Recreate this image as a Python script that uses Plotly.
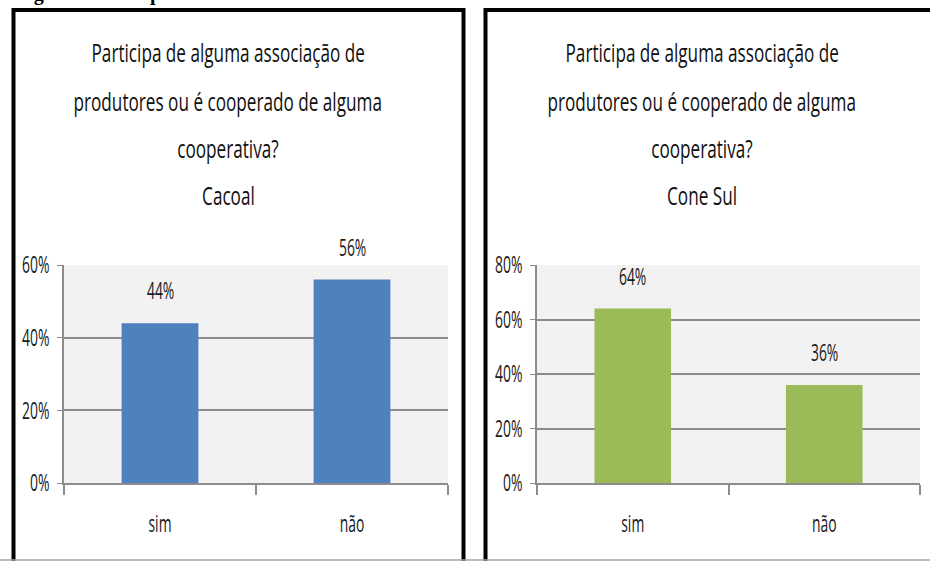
"""
Participação em associação / cooperativa - Cacoal x Cone Sul.
"""

import plotly.graph_objects as go

# ------------------------------------------------------- Data ---------------------------------------------------------

categories = ['sim', 'não']
cacoal_values = [0.44, 0.56]
cone_sul_values = [0.64, 0.36]

title_lines = [
    'Participa de alguma associação de',
    'produtores ou é cooperado de alguma',
    'cooperativa?',
]
regions = ['Cacoal', 'Cone Sul']
figure_caption = 'Figura 9 – Comparativo'

W, H = 930, 561
FONT = 'Open Sans, sans-serif'
GRID = '#8c8c8c'
TXT = '#1a1a1a'


def px(x):
    return x / W


def py(y):
    return 1 - y / H


# ------------------------------------------------------ Figure --------------------------------------------------------

fig = go.Figure()

panels = [
    dict(values=cacoal_values, color='#4f81bd', xdom=[px(64), px(448)], ymax=0.6, center=228, region=regions[0]),
    dict(values=cone_sul_values, color='#9bbb59', xdom=[px(537), px(920)], ymax=0.8, center=702, region=regions[1]),
]

annotations = []
for i, p in enumerate(panels, start=1):
    xa = 'x' if i == 1 else 'x%d' % i
    ya = 'y' if i == 1 else 'y%d' % i
    fig.add_trace(go.Bar(
        x=categories, y=p['values'], xaxis=xa, yaxis=ya,
        marker=dict(color=p['color'], line=dict(width=0)), width=0.4,
        hoverinfo='skip', showlegend=False,
    ))
    axis_x = dict(
        domain=p['xdom'], anchor=ya, showline=True, linecolor=GRID, linewidth=1.5,
        ticks='outside', ticklen=10, tickcolor=GRID, tickwidth=1.5, tickson='boundaries',
        showgrid=False, ticklabelstandoff=18, tickfont=dict(family=FONT, size=24, color=TXT),
        fixedrange=True, automargin=False,
    )
    axis_y = dict(
        domain=[py(483), py(265)], anchor=xa, range=[0, p['ymax']], dtick=0.2, tickformat='.0%',
        showline=True, linecolor=GRID, linewidth=1.5, ticks='outside', ticklen=5, tickcolor=GRID,
        showgrid=True, gridcolor=GRID, gridwidth=1.5, zeroline=False, ticklabelstandoff=3,
        tickfont=dict(family=FONT, size=24, color=TXT), fixedrange=True, automargin=False,
    )
    fig.update_layout(**{('xaxis' if i == 1 else 'xaxis%d' % i): axis_x,
                         ('yaxis' if i == 1 else 'yaxis%d' % i): axis_y})
    fig.add_shape(type='rect', xref=xa + ' domain', yref=ya + ' domain', x0=0, x1=1, y0=0, y1=1,
                  fillcolor='#f2f2f2', line=dict(width=0), layer='below')

    # data labels, lifted above the bar tops like the Excel original
    for cat, val in zip(categories, p['values']):
        annotations.append(dict(
            x=cat, y=val, xref=xa, yref=ya, text='%d%%' % round(val * 100), showarrow=False,
            yanchor='bottom', yshift=15, font=dict(family=FONT, size=24, color=TXT),
        ))

    # title, one annotation per line to get the wide line spacing
    for line, ycen in zip(title_lines + [p['region']], [52, 101, 148, 195]):
        annotations.append(dict(
            x=px(p['center']), y=py(ycen), xref='paper', yref='paper', text=line, showarrow=False,
            xanchor='center', yanchor='middle', font=dict(family=FONT, size=25, color='#111'),
        ))

# caption of the page, almost entirely cut off at the top
annotations.append(dict(
    x=px(15), y=py(6), xref='paper', yref='paper', text='<b>%s</b>' % figure_caption, showarrow=False,
    xanchor='left', yanchor='bottom', borderpad=0,
    font=dict(family='Liberation Serif, serif', size=20, color='#000'),
))

# panel frames and the grey page edge
fig.add_shape(type='rect', xref='paper', yref='paper', x0=px(13.5), x1=px(463.5), y0=-0.1, y1=py(10),
              line=dict(color='#000', width=4))
fig.add_shape(type='rect', xref='paper', yref='paper', x0=px(485.5), x1=1.1, y0=-0.1, y1=py(10),
              line=dict(color='#000', width=4))
fig.add_shape(type='line', xref='paper', yref='paper', x0=0, x1=1, y0=py(560), y1=py(560),
              line=dict(color='#a6a6a6', width=1.5))

fig.update_layout(
    width=W, height=H, margin=dict(l=0, r=0, t=0, b=0, autoexpand=False),
    paper_bgcolor='white', plot_bgcolor='rgba(0,0,0,0)',
    annotations=annotations, showlegend=False, bargap=0.6,
)

# the source uses a condensed (Calibri-like, horizontally squeezed) face: squeeze the glyphs
post = """
document.body.style.margin = '0';
var gd = document.getElementById('{plot_id}');
gd.querySelectorAll('.xaxislayer-above text, .yaxislayer-above text, .annotation-text').forEach(function (t) {
    if (t.textContent.indexOf('Figura') === 0) return;
    var f = parseFloat(t.style.fontSize) >= 25 ? 0.686 : 0.58;
    t.setAttribute('textLength', (t.getComputedTextLength() * f).toFixed(1));
    t.setAttribute('lengthAdjust', 'spacingAndGlyphs');
});
"""

fig.write_html('out.html', post_script=post, config=dict(displayModeBar=False))
